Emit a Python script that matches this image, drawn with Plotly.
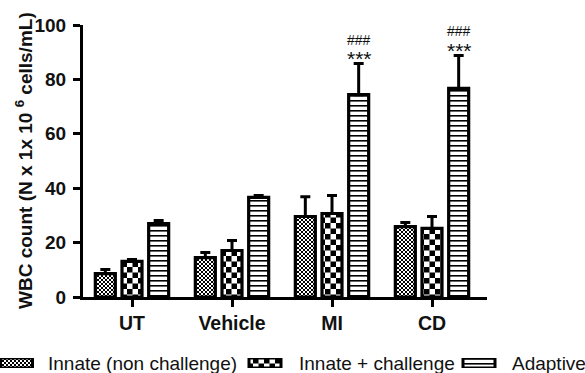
import plotly.graph_objects as go

# ---- data -------------------------------------------------------------
categories = ["UT", "Vehicle", "MI", "CD"]
series_names = ["Innate (non challenge)", "Innate + challenge", "Adaptive"]

innate_mean = [8.6, 14.5, 29.6, 25.9]
innate_sem = [1.5, 1.9, 7.3, 1.5]

challenge_mean = [13.1, 17.1, 30.7, 25.2]
challenge_sem = [0.7, 3.7, 6.6, 4.4]

adaptive_mean = [27.0, 36.6, 74.4, 76.7]
adaptive_sem = [1.1, 0.7, 11.4, 12.1]

y_ticks = [0, 20, 40, 60, 80, 100]
sig_labels = {"MI": ("***", "###"), "CD": ("***", "###")}

# ---- styling ----------------------------------------------------------
W, H = 585, 373
FONT = "Arial, Liberation Sans, sans-serif"
INK = "#111111"

# fill patterns: fine checker, coarse checker, horizontal stripes
patterns = [
    dict(path="M0,0H2V2H0ZM2,2H4V4H2Z", size=4, fgcolor="black", bgcolor="white", fillmode="replace"),
    dict(path="M0,0H5.5V5.5H0ZM5.5,5.5H11V11H5.5Z", size=11, fgcolor="black", bgcolor="white", fillmode="replace"),
    dict(path="M0,0H5V1.6H0Z", size=5, fgcolor="black", bgcolor="white", fillmode="replace"),
]

means = [innate_mean, challenge_mean, adaptive_mean]
sems = [innate_sem, challenge_sem, adaptive_sem]

fig = go.Figure()
for name, m, s, pat in zip(series_names, means, sems, patterns):
    fig.add_trace(go.Bar(
        name=name, x=categories, y=m,
        marker=dict(color="white", pattern=pat, line=dict(color="black", width=3.2)),
        error_y=dict(type="data", array=s, arrayminus=[0] * len(s), symmetric=False,
                     color="black", thickness=3, width=5),
        showlegend=False, xaxis="x", yaxis="y",
    ))

# legend keys drawn as small patterned boxes on a hidden strip axis
key_x = [16.5, 265, 479]
for name, pat, kx in zip(series_names, patterns, key_x):
    fig.add_trace(go.Bar(
        x=[kx], y=[1], width=[32], base=0,
        marker=dict(color="white", pattern=pat, line=dict(color="black", width=3)),
        showlegend=False, hoverinfo="skip", xaxis="x2", yaxis="y2",
    ))

annotations = []
# significance markers above the adaptive bars
for cat, (stars, hashes) in sig_labels.items():
    i = categories.index(cat)
    top = adaptive_mean[i] + adaptive_sem[i]
    annotations.append(dict(x=cat, y=top, xref="x", yref="y", text=stars, showarrow=False,
                            xshift=27, yshift=5, yanchor="middle",
                            font=dict(family=FONT, size=21, color=INK)))
    annotations.append(dict(x=cat, y=top, xref="x", yref="y", text=hashes, showarrow=False,
                            xshift=27, yshift=24, yanchor="middle",
                            font=dict(family=FONT, size=14, color=INK)))

# y-axis title
annotations.append(dict(x=24 / W, y=(H - 161) / H, xref="paper", yref="paper",
                        text="WBC count (N x 1x 10 <sup>6</sup> cells/mL)", textangle=-90,
                        showarrow=False, xanchor="center", yanchor="middle",
                        font=dict(family=FONT, size=19, color=INK, weight="bold")))

# legend labels
for name, tx in zip(series_names, [46, 297, 510]):
    annotations.append(dict(x=tx / W, y=10 / H, xref="paper", yref="paper", text=name,
                            showarrow=False, xanchor="left", yanchor="middle",
                            font=dict(family=FONT, size=19, color=INK)))

fig.update_layout(
    template="none",
    width=W, height=H,
    margin=dict(l=0, r=0, t=0, b=0, autoexpand=False),
    paper_bgcolor="white", plot_bgcolor="white",
    barmode="group", bargap=0.2, bargroupgap=0.25,
    xaxis=dict(domain=[83 / W, 487 / W], range=[-0.49, 3.55], showgrid=False, automargin=False,
               showline=True, linecolor="black", linewidth=3,
               ticks="outside", ticklen=7, tickwidth=2.5, tickcolor="black",
               tickfont=dict(family=FONT, size=19.5, color=INK, weight="bold"),
               zeroline=False, fixedrange=True),
    yaxis=dict(domain=[76 / H, 348 / H], range=[0, 100], tickvals=y_ticks, showgrid=False,
               automargin=False,
               showline=True, linecolor="black", linewidth=3,
               ticks="outside", ticklen=7, tickwidth=2.5, tickcolor="black",
               ticklabelstandoff=3,
               tickfont=dict(family=FONT, size=19, color=INK, weight="bold"),
               zeroline=False, fixedrange=True),
    xaxis2=dict(domain=[0, 1], range=[0, W], visible=False, anchor="y2", fixedrange=True,
                automargin=False),
    yaxis2=dict(domain=[5 / H, 15 / H], range=[0, 1], visible=False, anchor="x2", fixedrange=True,
                automargin=False),
    annotations=annotations,
)

fig.write_html("out.html")
